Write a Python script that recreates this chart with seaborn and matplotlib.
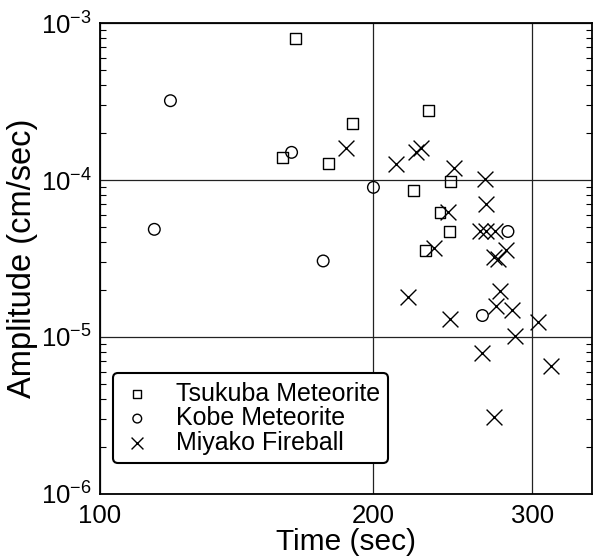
import numpy as np
import pandas as pd
import matplotlib
matplotlib.use('Agg')
import matplotlib.pyplot as plt
import matplotlib.ticker as mticker
import seaborn as sns

# Datos
tsukuba_t = [164.5, 190.0, 178.6, 159.0, 230.4, 243.8, 221.9, 237.2, 243.1, 228.8]
tsukuba_a = [8.0e-4, 2.28e-4, 1.28e-4, 1.40e-4, 2.78e-4, 9.76e-5, 8.6e-5, 6.25e-5, 4.69e-5, 3.58e-5]

kobe_t = [119.6, 114.8, 162.7, 176.3, 200.3, 264.2, 281.9]
kobe_a = [3.2e-4, 4.85e-5, 1.50e-4, 3.05e-5, 8.98e-5, 1.37e-5, 4.7e-5]

miyako_t = [187.0, 212.0, 223.4, 226.2, 245.6, 265.8, 266.9, 241.9, 262.4, 266.9,
            272.6, 233.4, 272.0, 274.9, 280.8, 218.6, 243.2, 276.6, 273.3, 285.1,
            304.2, 287.3, 264.0, 314.8, 272.0]
miyako_a = [1.61e-4, 1.26e-4, 1.51e-4, 1.59e-4, 1.2e-4, 1.01e-4, 7.03e-5, 6.25e-5, 4.7e-5, 4.75e-5,
            4.7e-5, 3.67e-5, 3.25e-5, 3.13e-5, 3.58e-5, 1.81e-5, 1.30e-5, 1.95e-5, 1.58e-5, 1.49e-5,
            1.24e-5, 1.02e-5, 7.87e-6, 6.56e-6, 3.08e-6]

labels = ['Tsukuba Meteorite', 'Kobe Meteorite', 'Miyako Fireball']
x_ticks = [100, 200, 300]

sns.set_style('white')
plt.rcParams['font.family'] = ['Liberation Sans', 'DejaVu Sans']
plt.rcParams['mathtext.fontset'] = 'custom'
plt.rcParams['mathtext.rm'] = 'Liberation Sans'
for k in ['text.color', 'axes.labelcolor', 'xtick.color', 'ytick.color']:
    plt.rcParams[k] = 'black'

fig = plt.figure(figsize=(5.93, 5.6), dpi=100)
ax = fig.add_axes([0.1686, 0.1179, 0.8297, 0.841])

df_t = pd.DataFrame({'t': tsukuba_t, 'a': tsukuba_a})
df_k = pd.DataFrame({'t': kobe_t, 'a': kobe_a})
df_m = pd.DataFrame({'t': miyako_t, 'a': miyako_a})

sns.scatterplot(data=df_t, x='t', y='a', marker='s', s=62, fc='none', ec='black',
                linewidth=1.0, ax=ax, label=labels[0], zorder=3)
sns.scatterplot(data=df_k, x='t', y='a', marker='o', s=70, fc='none', ec='black',
                linewidth=1.0, ax=ax, label=labels[1], zorder=3)
sns.scatterplot(data=df_m, x='t', y='a', marker='x', s=130, color='black',
                linewidth=1.0, ax=ax, label=labels[2], zorder=3)

ax.set_xscale('log')
ax.set_yscale('log')
ax.set_xlim(100, 349)
ax.set_ylim(1e-6, 1e-3)

ax.xaxis.set_major_locator(mticker.FixedLocator(x_ticks))
ax.xaxis.set_major_formatter(mticker.FixedFormatter([str(v) for v in x_ticks]))
ax.xaxis.set_minor_locator(mticker.NullLocator())
ax.yaxis.set_major_locator(mticker.LogLocator(base=10, numticks=10))
ax.yaxis.set_minor_locator(mticker.LogLocator(base=10, subs=np.arange(2, 10), numticks=10))
ax.yaxis.set_minor_formatter(mticker.NullFormatter())

ax.tick_params(axis='x', which='major', length=0, pad=7, labelsize=18.5)
ax.tick_params(axis='y', which='major', length=0, pad=6, labelsize=18.5)
ax.tick_params(axis='y', which='minor', direction='in', length=4, width=0.8,
               left=True, right=True, color='black')

ax.grid(True, which='major', color='#222222', linewidth=0.9)
for sp in ax.spines.values():
    sp.set_color('black')
    sp.set_linewidth(1.3)

ax.set_xlabel('Time (sec)', fontsize=21.5, labelpad=0)
ax.set_ylabel('Amplitude (cm/sec)', fontsize=23.5, labelpad=2)

leg = ax.legend(loc='lower left', bbox_to_anchor=(0.026, 0.066), borderaxespad=0,
                fontsize=18, markerscale=0.75, handlelength=1.3, handletextpad=0.9,
                labelspacing=0.02, borderpad=0.33, fancybox=True, framealpha=1)
frame = leg.get_frame()
frame.set_edgecolor('black')
frame.set_linewidth(1.5)

fig.savefig('out.png', dpi=100)
